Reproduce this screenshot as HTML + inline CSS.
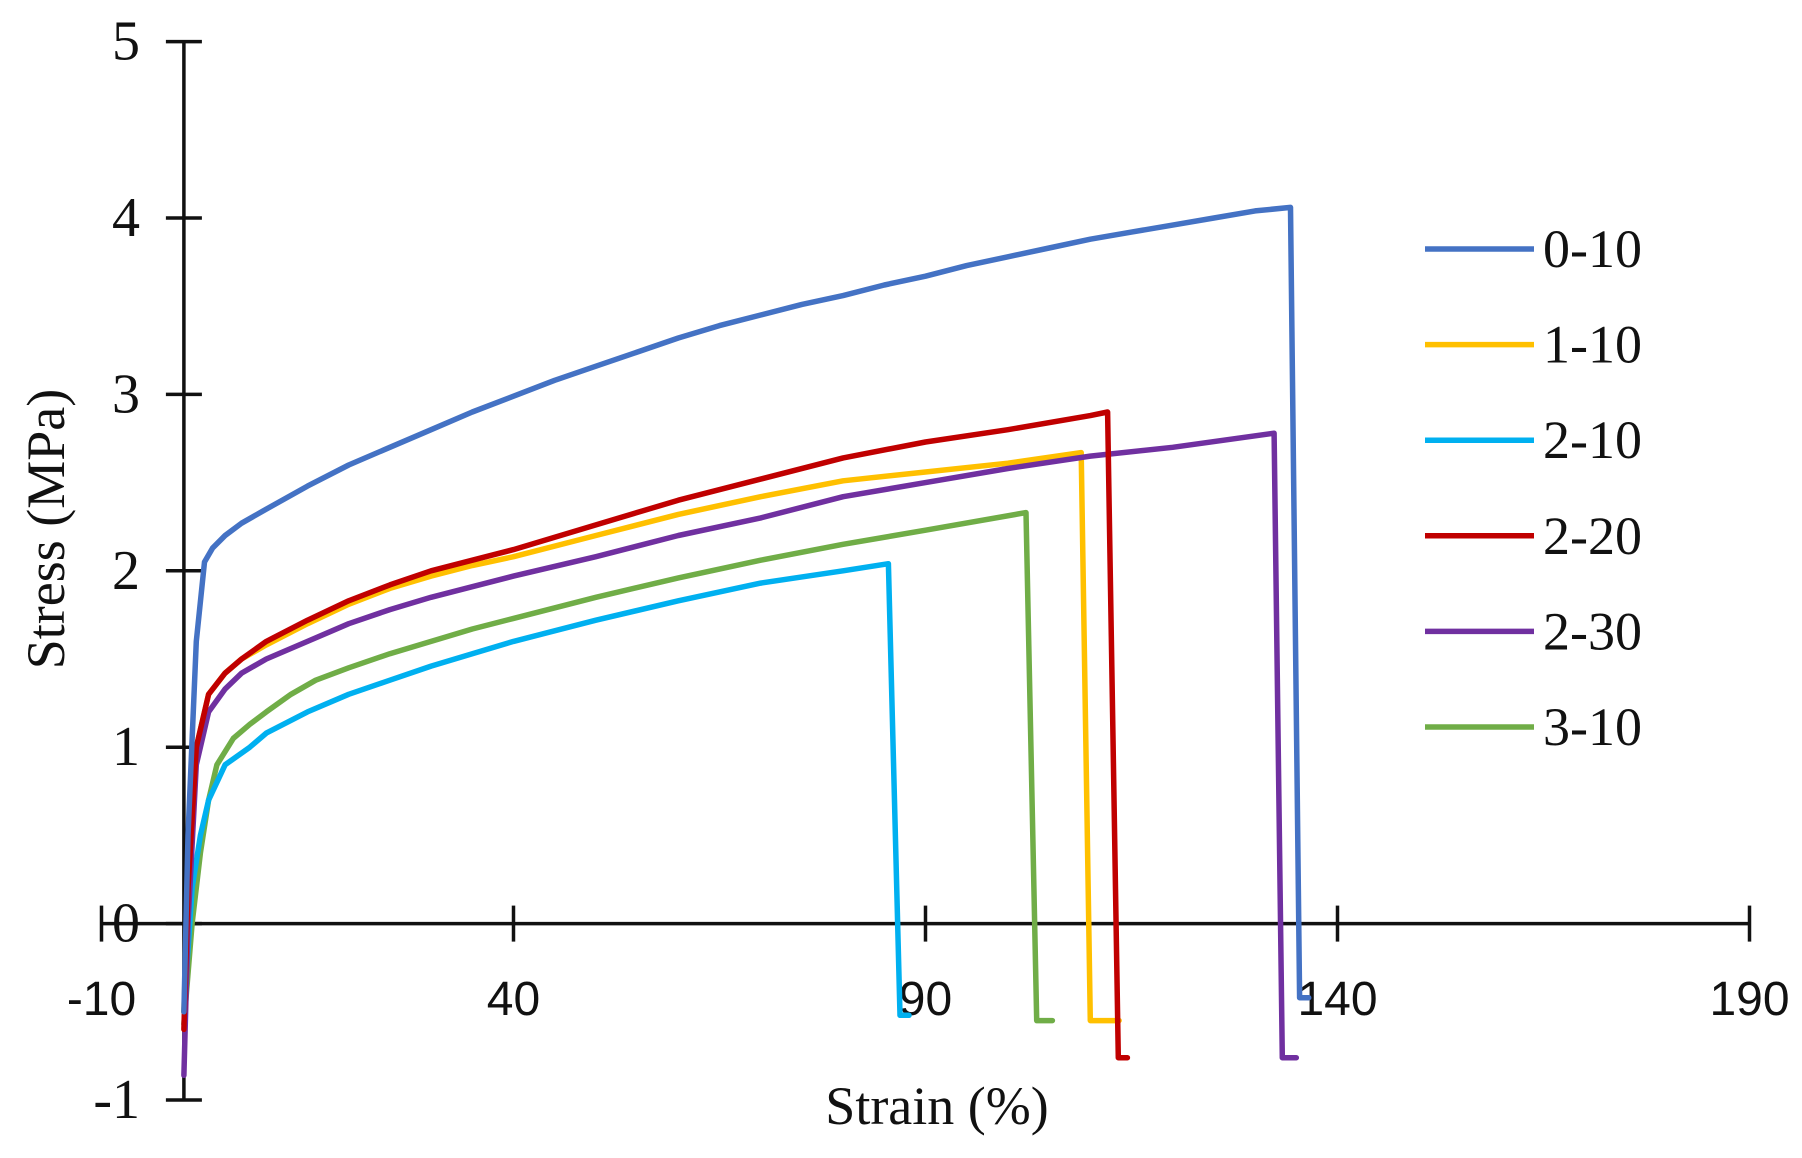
<!DOCTYPE html>
<html><head><meta charset="utf-8"><style>
html,body{margin:0;padding:0;background:#fff;}
svg{display:block;}
</style></head><body>
<svg id="chart" width="1802" height="1158" viewBox="0 0 1802 1158" xmlns="http://www.w3.org/2000/svg">
<g id="axes"></g>
<g id="series"></g>
<g id="legend"></g>
<text x="0" y="0" transform="translate(64,529) rotate(-90)" text-anchor="middle" font-family="Liberation Serif, serif" font-size="54" fill="#111">Stress (MPa)</text>
<text x="937" y="1124" text-anchor="middle" font-family="Liberation Serif, serif" font-size="54" fill="#111">Strain (%)</text>
</svg>
<script>
const xTicks = [-10, 40, 90, 140, 190];
const yTicks = [-1, 0, 1, 2, 3, 4, 5];
const seriesNames = ["0-10", "1-10", "2-10", "2-20", "2-30", "3-10"];
const seriesColors = ["#4472C4", "#FFC000", "#00B0F0", "#C00000", "#7030A0", "#70AD47"];
const strain0_10 = [0,0.5,1.5,2.5,3.5,5,7,10,15,20,25,30,35,40,45,50,55,60,65,70,75,80,85,90,95,100,105,110,115,120,125,130,134.3,135.4,136.5];
const stress0_10 = [-0.5,0.5,1.6,2.05,2.13,2.2,2.27,2.35,2.48,2.6,2.7,2.8,2.9,2.99,3.08,3.16,3.24,3.32,3.39,3.45,3.51,3.56,3.62,3.67,3.73,3.78,3.83,3.88,3.92,3.96,4.0,4.04,4.06,-0.42,-0.42];
const strain1_10 = [0,0.5,1.5,3,5,7,10,15,20,25,30,35,40,50,60,70,80,90,100,108.9,110,113.5];
const stress1_10 = [-0.5,0.2,1.0,1.3,1.42,1.5,1.58,1.7,1.81,1.9,1.97,2.03,2.08,2.2,2.32,2.42,2.51,2.56,2.61,2.67,-0.55,-0.55];
const strain2_10 = [0,1,2,3,5,8,10,15,20,25,30,35,40,50,60,70,80,85.5,86.9,88];
const stress2_10 = [-0.5,0.2,0.5,0.7,0.9,1.0,1.08,1.2,1.3,1.38,1.46,1.53,1.6,1.72,1.83,1.93,2.0,2.04,-0.52,-0.52];
const strain2_20 = [0,0.5,1.5,3,5,7,10,15,20,25,30,35,40,50,60,70,80,90,100,110,112.1,113.4,114.5];
const stress2_20 = [-0.6,0.2,1.0,1.3,1.42,1.5,1.6,1.72,1.83,1.92,2.0,2.06,2.12,2.26,2.4,2.52,2.64,2.73,2.8,2.88,2.9,-0.76,-0.76];
const strain2_30 = [0,0.5,1.5,3,5,7,10,15,20,25,30,35,40,50,60,70,80,90,100,110,120,132.3,133.3,135];
const stress2_30 = [-0.86,0,0.9,1.2,1.33,1.42,1.5,1.6,1.7,1.78,1.85,1.91,1.97,2.08,2.2,2.3,2.42,2.5,2.58,2.65,2.7,2.78,-0.76,-0.76];
const strain3_10 = [0,1,2,3,4,6,8,10,13,16,20,25,30,35,40,50,60,70,80,90,102.2,103.5,105.4];
const stress3_10 = [-0.57,0,0.4,0.7,0.9,1.05,1.13,1.2,1.3,1.38,1.45,1.53,1.6,1.67,1.73,1.85,1.96,2.06,2.15,2.23,2.33,-0.55,-0.55];

const NS = "http://www.w3.org/2000/svg";
const X0 = 101.5, XPU = 8.24;
const Y0 = 923.6, YPU = 176.4;
function sx(v){ return X0 + (v + 10) * XPU; }
function sy(v){ return Y0 - v * YPU; }
function mk(tag, attrs, parent){
  const e = document.createElementNS(NS, tag);
  for (const k in attrs) e.setAttribute(k, attrs[k]);
  parent.appendChild(e);
  return e;
}
const axes = document.getElementById('axes');
const xa = mk('line', {x1: sx(-10), y1: sy(0), x2: sx(190), y2: sy(0), stroke: '#111', 'stroke-width': 3.5}, axes);


const ya = mk('line', {x1: sx(0), y1: sy(-1), x2: sx(0), y2: sy(5), stroke: '#111', 'stroke-width': 3.5}, axes);


xTicks.forEach(function(t){
  const tk = mk('line', {x1: sx(t), y1: sy(0) - 18, x2: sx(t), y2: sy(0) + 18, stroke: '#111', 'stroke-width': 3.5}, axes);
  
  
  const lb = mk('text', {x: sx(t), y: 1015, 'text-anchor': 'middle', 'font-family': 'Liberation Sans, sans-serif', 'font-size': 48, fill: '#111'}, axes);
  lb.textContent = t;
  
  
});
yTicks.forEach(function(t){
  const tk = mk('line', {x1: sx(0) - 18, y1: sy(t), x2: sx(0) + 18, y2: sy(t), stroke: '#111', 'stroke-width': 3.5}, axes);
  
  
  const lb = mk('text', {x: 140, y: sy(t) + 18, 'text-anchor': 'end', 'font-family': 'Liberation Serif, serif', 'font-size': 56, fill: '#111'}, axes);
  lb.textContent = t;
  
  
});
const seriesX = [strain0_10, strain1_10, strain2_10, strain2_20, strain2_30, strain3_10];
const seriesY = [stress0_10, stress1_10, stress2_10, stress2_20, stress2_30, stress3_10];
const order = [5, 2, 1, 4, 3, 0];
const sg = document.getElementById('series');
order.forEach(function(i){
  const d = seriesX[i].map(function(x, j){ return (j ? 'L' : 'M') + sx(x).toFixed(1) + ',' + sy(seriesY[i][j]).toFixed(1); }).join(' ');
  const p = mk('path', {d: d, fill: 'none', stroke: seriesColors[i], 'stroke-width': 5.5, 'stroke-linejoin': 'round', 'stroke-linecap': 'round'}, sg);
  
  
});
const lg = document.getElementById('legend');
seriesNames.forEach(function(n, i){
  const y = 249 + i * 95.6;
  const ln = mk('line', {x1: 1425, y1: y, x2: 1534, y2: y, stroke: seriesColors[i], 'stroke-width': 5.5}, lg);
  
  
  const tx = mk('text', {x: 1543, y: y + 18, 'font-family': 'Liberation Serif, serif', 'font-size': 54, fill: '#111'}, lg);
  tx.textContent = n;
  
  
});
</script>
</body></html>
